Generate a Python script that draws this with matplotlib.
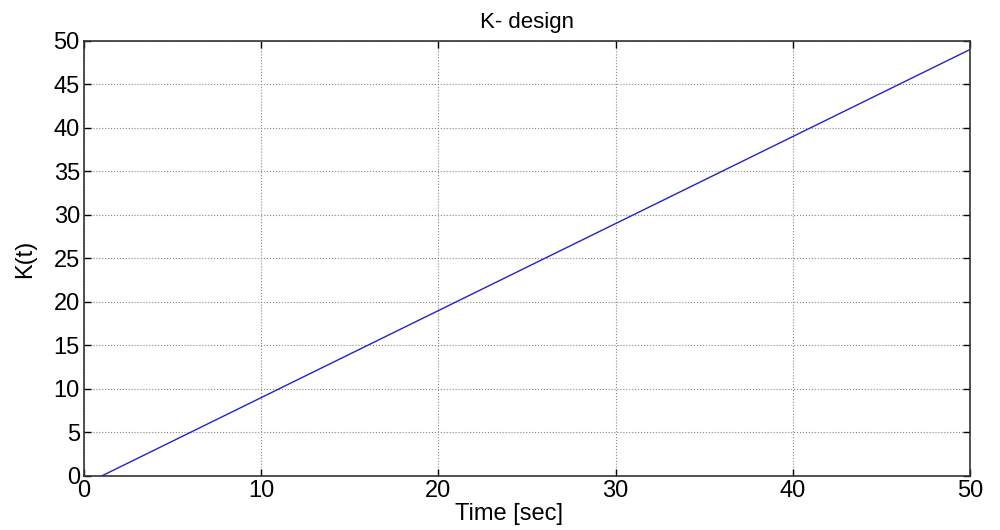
import matplotlib
matplotlib.use("Agg")
import matplotlib.pyplot as plt

# K(t) design data
time_sec = [1, 50]
k_values = [0, 49]
x_ticks = [0, 10, 20, 30, 40, 50]
y_ticks = [0, 5, 10, 15, 20, 25, 30, 35, 40, 45, 50]

plt.rcParams['font.family'] = ['Liberation Sans', 'DejaVu Sans']

fig = plt.figure(figsize=(10, 5.3), dpi=100)
ax = fig.add_axes([0.084, 0.102, 0.886, 0.821])

ax.plot(time_sec, k_values, color='#2222cc', linewidth=1.0)

ax.set_xlim(0, 50)
ax.set_ylim(0, 50)
ax.set_xticks(x_ticks)
ax.set_yticks(y_ticks)
ax.tick_params(direction='in', length=5, width=1, labelsize=17,
               top=True, right=True, pad=3)
ax.grid(True, linestyle=':', color='#888888', linewidth=0.8)
for s in ax.spines.values():
    s.set_linewidth(1.2)
    s.set_color('#333333')

ax.set_title('K- design', fontsize=16, pad=9)
ax.set_xlabel('Time [sec]', fontsize=17)
ax.xaxis.set_label_coords(0.48, -0.062)
ax.set_ylabel('K(t)', fontsize=17)
ax.yaxis.set_label_coords(-0.054, 0.5)

fig.savefig('out.png', dpi=100)
